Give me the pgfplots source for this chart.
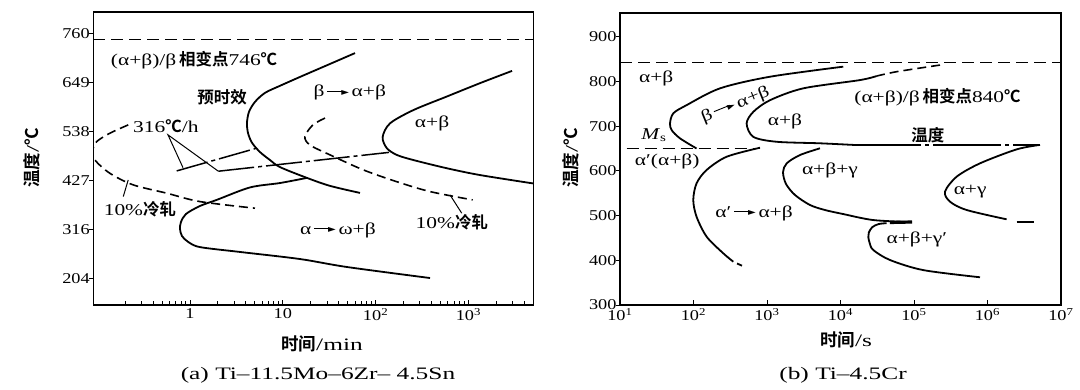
\documentclass[border=0pt]{standalone}
\usepackage{graphicx}
\usepackage{fontspec}
\setmainfont{Liberation Serif}
\newfontfamily\cjk{Noto Sans CJK SC Bold}
\newfontfamily\dejavu{DejaVu Sans}
\usepackage{pgfplots}
\pgfplotsset{compat=1.18}
\newcommand\zh[1]{{\cjk #1}}
\newcommand\LL[1]{\scalebox{1.3}[1]{#1}}
\newcommand\CL[1]{\scalebox{1.45}[1]{#1}}
\newcommand\TL[1]{\scalebox{1.22}[1]{#1}}
\newcommand\arr{\,\raisebox{5.5pt}{\rule{17pt}{0.9pt}}\kern-3pt\raisebox{1.6pt}{\dejavu\fontsize{10}{10}\selectfont ►}\,}
\tikzset{
  cv/.style={line width=1.8pt, black, smooth},
  dsh/.style={line width=1.6pt, black, smooth, dash pattern=on 9pt off 5pt},
  big/.style={font=\fontsize{17.5}{21}\selectfont},
}
\begin{document}
\begin{tikzpicture}[font=\fontsize{16.5}{20}\selectfont]
\path[use as bounding box] (0,0) rectangle (1080pt,390pt);
% ---------------- (a) ----------------
\begin{axis}[scale only axis, anchor=south west, xmode=log,
  axis line style={line width=1.1pt},
  tick style={line width=0.9pt, black},
  tick pos=left, tick align=inside,
  ytick style={xshift=-4.5pt},
  major tick length=4.5pt, minor tick length=3.5pt,
  minor y tick num=0,
  ticklabel style={font=\fontsize{15}{18}\selectfont},
  clip mode=individual,
  at={(93.3pt,85pt)}, width=440pt, height=293pt,
  xmin=0.0908, xmax=5000, ymin=145, ymax=808,
  xtick={1,10,100,1000}, xticklabels={\TL{1},\TL{10},\TL{10\textsuperscript{2}},\TL{10\textsuperscript{3}}},
  minor xtick={0.2,0.3,0.4,0.5,0.6,0.7,0.8,0.9,2,3,4,5,6,7,8,9,20,30,40,50,60,70,80,90,200,300,400,500,600,700,800,900,2000,3000,4000},
  ytick={204,316,427,538,649,760}, yticklabels={\TL{204},\TL{316},\TL{427},\TL{538},\TL{649},\TL{760}},
]
\addplot[black, line width=1.2pt, dash pattern=on 12pt off 6pt] coordinates {(0.0908,746)(5000,746)};
% pre-aged C curve
\addplot[cv] coordinates {(60,715)(32.3,690.5)(15.3,661)(9.33,641)(6.43,625)(5.01,604.5)(4.32,582)(4.11,557)(4.22,534)(4.66,512)(5.68,491)(7.28,473)(9.33,457)(18.2,432.6)(32.3,414.5)(67.9,398.6)};
% lower C curve
\addplot[cv] coordinates {(18.2,432.6)(9.33,421)(4.43,411)(1.95,383)(1.28,369)(0.906,351)(0.80,333)(0.78,317)(0.82,301)(0.952,288)(1.28,276)(3.46,265)(15.3,249)(48.9,231)(386,206)};
% right alpha+beta C curve
\addplot[cv] coordinates {(2951,674.7)(1334,647)(583,616.6)(255,586)(143,556)(119,525)(132,500)(169,484.6)(255,473)(583,454.5)(1334,439)(5000,420)};
% middle dashed C
\addplot[dsh] coordinates {(28.5,568)(21.1,552.5)(17.3,526)(19.6,507)(32.3,484.6)(73.7,450.7)(169,424)(386,401.6)(1112,382.8)};
% left dashed C
\addplot[dsh] coordinates {(0.216,552.5)(0.137,533.7)(0.0988,514.7)(0.0894,496)(0.0947,473)(0.137,443)(0.245,416.7)(0.561,398)(1.28,379)(5.01,364)};
% cooling lines
\addplot[black, line width=1.5pt, dash pattern=on 32pt off 4pt on 4pt off 4pt] coordinates {(0.719,448.4)(5.23,499.8)};
\addplot[black, line width=1.5pt, dash pattern=on 36pt off 4pt on 4pt off 4pt] coordinates {(2.02,447.7)(139.4,490.3)};
% leaders
\addplot[black, line width=1pt] coordinates {(0.841,455.6)(0.579,530)(2.02,447.7)};
\addplot[black, line width=1pt] coordinates {(0.216,428)(0.191,390.3)};
\addplot[black, line width=1pt] coordinates {(634,394)(847,352.7)};
% labels
\node at (rel axis cs:0.229,0.836) {\LL{(α+β)/β}\,\zh{相变点}\LL{746}\zh{℃}};
\node at (rel axis cs:0.293,0.710) {\zh{预时效}};
\node at (rel axis cs:0.165,0.611) {\LL{316}\zh{℃}\LL{/h}};
\node at (rel axis cs:0.106,0.328) {\LL{10\%}\zh{冷轧}};
\node at (rel axis cs:0.583,0.724) {\LL{β}\arr\LL{α+β}};
\node at (rel axis cs:0.770,0.621) {\LL{α+β}};
\node at (rel axis cs:0.556,0.256) {\LL{α}\arr\LL{ω+β}};
\node at (rel axis cs:0.815,0.283) {\LL{10\%}\zh{冷轧}};
\end{axis}
% ---------------- (b) ----------------
\begin{axis}[scale only axis, anchor=south west, xmode=log,
  axis line style={line width=1.1pt},
  tick style={line width=0.9pt, black},
  tick pos=left, tick align=inside,
  ytick style={xshift=-4.5pt},
  major tick length=4.5pt,
  minor y tick num=0,
  ticklabel style={font=\fontsize{15}{18}\selectfont},
  clip mode=individual,
  at={(620pt,85pt)}, width=441pt, height=292pt,
  xmin=10, xmax=1e7, ymin=300, ymax=953, xminorticks=false,
  xtick={10,100,1000,10000,100000,1000000,10000000},
  xticklabels={\TL{10\textsuperscript{1}},\TL{10\textsuperscript{2}},\TL{10\textsuperscript{3}},\TL{10\textsuperscript{4}},\TL{10\textsuperscript{5}},\TL{10\textsuperscript{6}},\TL{10\textsuperscript{7}}},
  ytick={300,400,500,600,700,800,900}, yticklabels={\TL{300},\TL{400},\TL{500},\TL{600},\TL{700},\TL{800},\TL{900}},
]
\addplot[black, line width=1.2pt, dash pattern=on 12pt off 6pt] coordinates {(10,843)(1e7,843)};
\addplot[black, line width=1.2pt, dash pattern=on 12pt off 6pt] coordinates {(12.3,650)(803,650)};
% beta -> alpha+beta
\addplot[cv] coordinates {(10900,833)(1099,810.5)(229.5,784.5)(80.7,747)(53.1,728.6)(47.9,706)(50.5,691)(65.5,672.7)(110,650)};
% alpha+beta C
\addplot[dsh] coordinates {(226000,836.6)(58000,821.7)(31000,812)};
\addplot[cv] coordinates {(31000,812)(18400,803)(3119,784.5)(1099,758)(652,732)(528,706)(652,676)(1355,665)(5260,661.6)(14900,658)};
\addplot[black, line width=1.5pt, dash pattern=on 68pt off 4pt on 4pt off 4pt] coordinates {(14900,658)(5.18e6,658)};
\addplot[black, line width=2.6pt] coordinates {(3.6e6,658)(5.18e6,658)};
% alpha' C
\addplot[cv] coordinates {(803,651.7)(283,631.6)(151,602)(110,572)(99.3,534.8)(110,497.5)(151,452.7)(254,415.6)(348,396.8)};
\addplot[cv] coordinates {(391,392.8)(457,387.9)};
% alpha+beta+gamma
\addplot[cv] coordinates {(5260,650.4)(2812,635.4)(1855,616.8)(1652,597)(1815,570.6)(2404,546)(3846,523.6)(6150,512.4)(10800,503.5)(27700,490)(88300,485.6)};
% alpha+beta+gamma'
\addplot[cv] coordinates {(42500,483)(33000,481)(27000,474)(24300,462)(23900,452)(25000,438)(27900,423)(47100,400.6)(134000,378)(791000,362)};
\addplot[black, line width=3.2pt] coordinates {(47000,484.5)(94000,485.6)};
% alpha+gamma
\addplot[cv] coordinates {(5.18e6,658)(2.49e6,648)(791000,616.8)(381000,587)(264000,553.4)(309000,531)(521000,512.4)(1.82e6,491.6)};
\addplot[cv] coordinates {(2.49e6,486.3)(4.2e6,486.3)};
% labels
\node at (rel axis cs:0.082,0.777) {\LL{α+β}};
\node[rotate=22] at (rel axis cs:0.262,0.685) {\LL{β}\arr\LL{α+β}};
\node at (rel axis cs:0.374,0.627) {\LL{α+β}};
\node at (rel axis cs:0.720,0.712) {\LL{(α+β)/β}\,\zh{相变点}\LL{840}\zh{℃}};
\node at (rel axis cs:0.698,0.582) {\zh{温度}};
\node at (rel axis cs:0.077,0.582) {\LL{\textit{M}\textsubscript{s}}};
\node at (rel axis cs:0.107,0.490) {\LL{α′(α+β)}};
\node at (rel axis cs:0.476,0.462) {\LL{α+β+γ}};
\node at (rel axis cs:0.304,0.315) {\LL{α′}\arr\LL{α+β}};
\node at (rel axis cs:0.794,0.387) {\LL{α+γ}};
\node at (rel axis cs:0.673,0.223) {\LL{α+β+γ′}};
\end{axis}
% outer labels
\node[big,rotate=90] at (32pt,232pt) {\zh{温度}\CL{/}\zh{℃}};
\node[big,rotate=90] at (571pt,232pt) {\zh{温度}\CL{/}\zh{℃}};
\node[big] at (322pt,46pt) {\zh{时间}\CL{/min}};
\node[big] at (846pt,50pt) {\zh{时间}\CL{/s}};
\node[big] at (318pt,15pt) {\CL{(a) Ti–11.5Mo–6Zr– 4.5Sn}};
\node[big] at (843pt,15pt) {\CL{(b) Ti–4.5Cr}};
\end{tikzpicture}
\end{document}
